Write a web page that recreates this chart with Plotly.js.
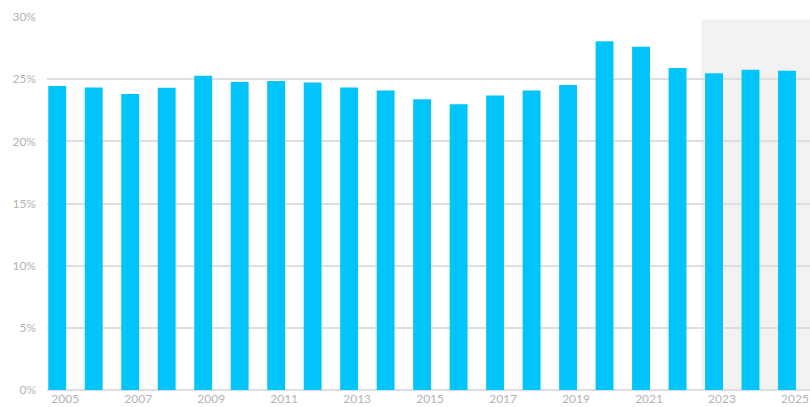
<!DOCTYPE html>
<html>
<head>
<meta charset="utf-8">
<script src="https://cdn.plot.ly/plotly-3.0.1.min.js"></script>
<style>html,body{margin:0;padding:0;background:#fff;}#chart{width:810px;height:407px;}</style>
</head>
<body>
<div id="chart"></div>
<script>
const years = [2005,2006,2007,2008,2009,2010,2011,2012,2013,2014,2015,2016,2017,2018,2019,2020,2021,2022,2023,2024,2025];
const values = [24.45,24.33,23.8,24.3,25.27,24.78,24.86,24.74,24.33,24.09,23.39,22.98,23.68,24.09,24.54,28.04,27.6,25.89,25.48,25.75,25.67];
const tickYears = [2005,2007,2009,2011,2013,2015,2017,2019,2021,2023,2025];
const yTicks = [0,5,10,15,20,25,30];
const yTickText = ['0%','5%','10%','15%','20%','25%','30%'];
const forecastStart = 2022.65;

const trace = {
  type: 'bar',
  x: years,
  y: values,
  width: 0.49,
  marker: {color: '#00C4FA'},
  hoverinfo: 'skip'
};

const layout = {
  width: 810, height: 407,
  margin: {l: 47, r: 0, t: 17, b: 17},
  paper_bgcolor: '#ffffff',
  plot_bgcolor: '#ffffff',
  showlegend: false,
  font: {family: 'Lato, sans-serif', size: 12, color: '#b3b3b3'},
  xaxis: {
    range: [2004.72, 2025.63],
    tickvals: tickYears,
    ticktext: tickYears.map(String),
    showgrid: false,
    zeroline: false,
    showline: false,
    ticks: '',
    ticklabelshift: 8,
    ticklabelstandoff: 0,
    tickfont: {family: 'Lato, sans-serif', size: 12, color: '#b3b3b3'}
  },
  yaxis: {
    range: [0, 30],
    tickvals: yTicks,
    ticktext: yTickText,
    showgrid: true,
    gridcolor: '#dedede',
    gridwidth: 2,
    zeroline: true,
    zerolinecolor: '#dedede',
    zerolinewidth: 2,
    showline: false,
    ticks: '',
    ticklabelstandoff: 10,
    tickfont: {family: 'Lato, sans-serif', size: 12, color: '#b3b3b3'}
  },
  shapes: [{
    type: 'rect', xref: 'x', yref: 'y',
    x0: forecastStart, x1: 2025.63, y0: 0, y1: 29.8,
    fillcolor: '#f2f2f2', line: {width: 0}, layer: 'below'
  }]
};

Plotly.newPlot('chart', [trace], layout, {displayModeBar: false, staticPlot: true});
</script>
</body>
</html>
